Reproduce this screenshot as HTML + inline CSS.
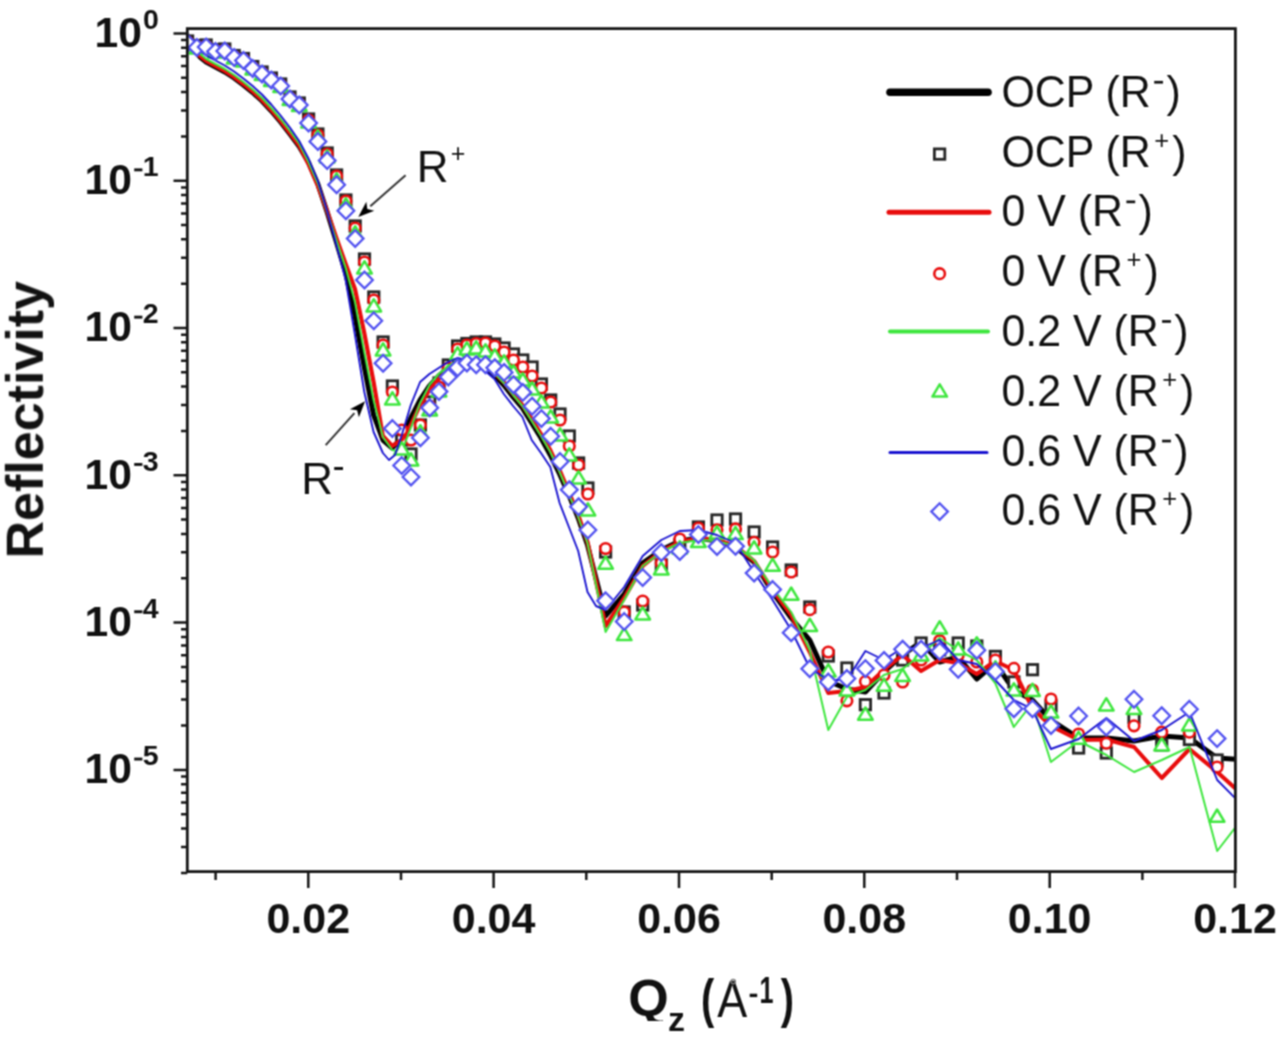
<!DOCTYPE html><html><head><meta charset="utf-8"><title>Reflectivity</title><style>html,body{margin:0;padding:0;background:#fff;width:1280px;height:1039px;overflow:hidden}svg{display:block}text{font-family:"Liberation Sans",sans-serif;fill:#111}</style></head><body>
<svg width="1280" height="1039" viewBox="0 0 1280 1039">
<defs><clipPath id="c"><rect x="187.3" y="28.6" width="1048.1" height="843.0"/></clipPath>
<symbol id="sq" overflow="visible"><rect x="-5.2" y="-5.2" width="10.4" height="10.4" fill="#fff" stroke="#262626" stroke-width="2.8"/></symbol>
<symbol id="ci" overflow="visible"><circle r="5.3" fill="#fff" stroke="#e80c0c" stroke-width="2.6"/></symbol>
<symbol id="tr" overflow="visible"><path d="M0 -6.8L7.3 5.4L-7.3 5.4Z" fill="#fff" stroke="#3ee63e" stroke-width="2.5" stroke-linejoin="round"/></symbol>
<symbol id="di" overflow="visible"><path d="M0 -8.3L8.3 0L0 8.3L-8.3 0Z" fill="#fff" stroke="#5252f0" stroke-width="2.3"/></symbol>
<filter id="soft" x="0" y="0" width="1280" height="1039" filterUnits="userSpaceOnUse" color-interpolation-filters="sRGB"><feConvolveMatrix order="3" kernelMatrix="1 2 1 2 4 2 1 2 1" edgeMode="duplicate"/></filter>
</defs>
<g filter="url(#soft)">
<rect width="1280" height="1039" fill="#fff"/>
<g clip-path="url(#c)">
<path d="M187.6 36.0 L193.0 48.0 L200.0 57.0 L206.2 62.0 L215.5 67.0 L224.8 72.0 L234.1 78.0 L243.4 85.0 L252.7 92.5 L262.0 101.0 L271.3 111.0 L280.6 122.0 L289.9 134.0 L299.2 146.5 L308.5 162.5 L317.8 184.0 L327.1 212.0 L336.4 242.0 L345.7 273.0 L355.0 316.0 L364.3 367.0 L373.6 415.0 L382.9 440.0 L392.2 448.0 L401.5 438.0 L410.8 418.0 L420.1 400.0 L429.4 386.0 L438.7 376.0 L448.0 368.0 L457.3 363.0 L466.6 361.0 L475.9 362.0 L485.2 368.0 L494.5 375.0 L503.8 385.0 L513.1 397.0 L522.4 408.0 L531.7 423.0 L541.0 438.0 L550.3 455.0 L559.6 474.0 L568.9 495.0 L578.2 518.0 L587.5 545.0 L605.6 616.0 L624.2 594.0 L642.7 563.0 L661.3 550.0 L679.8 541.0 L698.4 538.0 L716.9 541.0 L735.5 547.0 L754.0 562.0 L772.6 592.0 L791.2 618.0 L809.7 640.0 L828.3 681.0 L846.8 689.0 L865.4 692.0 L883.9 672.0 L902.5 655.0 L921.0 642.0 L939.6 662.0 L958.1 657.0 L976.7 679.0 L995.2 663.0 L1013.8 690.0 L1032.3 700.0 L1050.9 720.0 L1078.7 738.0 L1106.4 738.0 L1134.1 741.0 L1161.8 736.0 L1189.5 738.0 L1217.2 758.0 L1244.9 760.0" fill="none" stroke="#000" stroke-width="5.0" stroke-linejoin="round" stroke-linecap="round"/>
<use href="#sq" x="187.6" y="41.0"/><use href="#sq" x="196.9" y="45.5"/><use href="#sq" x="206.2" y="45.0"/><use href="#sq" x="215.5" y="49.5"/><use href="#sq" x="224.8" y="49.0"/><use href="#sq" x="234.2" y="55.5"/><use href="#sq" x="243.5" y="58.5"/><use href="#sq" x="252.8" y="66.5"/><use href="#sq" x="262.1" y="72.0"/><use href="#sq" x="271.4" y="78.0"/><use href="#sq" x="280.7" y="84.0"/><use href="#sq" x="290.0" y="97.0"/><use href="#sq" x="299.3" y="103.0"/><use href="#sq" x="308.6" y="119.0"/><use href="#sq" x="317.9" y="134.0"/><use href="#sq" x="327.2" y="153.0"/><use href="#sq" x="336.6" y="175.0"/><use href="#sq" x="345.9" y="200.0"/><use href="#sq" x="355.2" y="226.0"/><use href="#sq" x="364.5" y="259.0"/><use href="#sq" x="373.8" y="297.0"/><use href="#sq" x="383.1" y="342.0"/><use href="#sq" x="392.4" y="386.0"/><use href="#sq" x="401.7" y="440.0"/><use href="#sq" x="411.0" y="454.0"/><use href="#sq" x="420.4" y="425.0"/><use href="#sq" x="429.7" y="402.0"/><use href="#sq" x="439.0" y="383.0"/><use href="#sq" x="448.3" y="365.0"/><use href="#sq" x="457.6" y="346.0"/><use href="#sq" x="466.9" y="343.5"/><use href="#sq" x="476.2" y="342.0"/><use href="#sq" x="485.5" y="342.0"/><use href="#sq" x="494.8" y="344.0"/><use href="#sq" x="504.1" y="348.0"/><use href="#sq" x="513.5" y="354.0"/><use href="#sq" x="522.8" y="360.0"/><use href="#sq" x="532.1" y="367.0"/><use href="#sq" x="541.4" y="384.0"/><use href="#sq" x="550.7" y="400.0"/><use href="#sq" x="560.0" y="414.0"/><use href="#sq" x="569.3" y="436.0"/><use href="#sq" x="578.6" y="463.0"/><use href="#sq" x="587.9" y="488.0"/><use href="#sq" x="605.6" y="552.0"/><use href="#sq" x="624.2" y="612.0"/><use href="#sq" x="642.7" y="605.0"/><use href="#sq" x="661.3" y="565.0"/><use href="#sq" x="679.8" y="545.0"/><use href="#sq" x="698.4" y="527.0"/><use href="#sq" x="717.0" y="520.0"/><use href="#sq" x="735.5" y="519.0"/><use href="#sq" x="754.1" y="532.0"/><use href="#sq" x="772.6" y="547.0"/><use href="#sq" x="791.2" y="570.0"/><use href="#sq" x="809.8" y="607.0"/><use href="#sq" x="828.3" y="656.0"/><use href="#sq" x="846.9" y="668.0"/><use href="#sq" x="865.4" y="704.7"/><use href="#sq" x="884.0" y="693.0"/><use href="#sq" x="902.6" y="660.0"/><use href="#sq" x="921.1" y="643.0"/><use href="#sq" x="939.7" y="650.0"/><use href="#sq" x="958.2" y="643.0"/><use href="#sq" x="976.8" y="646.0"/><use href="#sq" x="995.4" y="656.4"/><use href="#sq" x="1013.9" y="682.0"/><use href="#sq" x="1032.5" y="669.7"/><use href="#sq" x="1051.0" y="706.0"/><use href="#sq" x="1078.6" y="748.0"/><use href="#sq" x="1106.3" y="753.0"/><use href="#sq" x="1134.0" y="717.6"/><use href="#sq" x="1161.7" y="745.0"/><use href="#sq" x="1189.4" y="739.5"/><use href="#sq" x="1217.1" y="760.0"/>
<path d="M187.6 36.5 L193.0 48.5 L200.0 56.0 L206.2 61.0 L215.5 66.0 L224.8 71.0 L234.1 77.0 L243.4 84.0 L252.7 91.5 L262.0 100.0 L271.3 110.0 L280.6 121.0 L289.9 133.0 L299.2 145.5 L308.5 164.0 L317.8 185.5 L327.1 211.0 L336.4 238.0 L345.7 264.0 L355.0 289.0 L364.3 333.0 L373.6 382.0 L382.9 436.0 L392.2 446.0 L401.5 440.0 L410.8 425.0 L420.1 405.0 L429.4 390.0 L438.7 379.0 L448.0 370.0 L457.3 364.0 L466.6 361.0 L475.9 361.0 L485.2 366.0 L494.5 373.0 L503.8 382.0 L513.1 394.0 L522.4 405.0 L531.7 419.0 L541.0 434.0 L550.3 450.0 L559.6 470.0 L568.9 492.0 L578.2 515.0 L587.5 542.0 L605.6 626.0 L624.2 598.0 L642.7 566.0 L661.3 551.0 L679.8 542.0 L698.4 538.0 L716.9 540.0 L735.5 546.0 L754.0 561.0 L772.6 590.0 L791.2 615.0 L809.7 652.0 L828.3 693.0 L846.8 691.0 L865.4 687.0 L883.9 670.0 L902.5 655.0 L921.0 671.0 L939.6 660.0 L958.1 663.0 L976.7 674.0 L995.2 661.0 L1013.8 670.0 L1032.3 708.0 L1050.9 726.0 L1078.7 740.0 L1106.4 739.5 L1134.1 747.0 L1161.8 778.0 L1189.5 749.0 L1217.2 772.0 L1244.9 797.0" fill="none" stroke="#e80c0c" stroke-width="4.1" stroke-linejoin="round" stroke-linecap="round"/>
<use href="#ci" x="187.6" y="42.0"/><use href="#ci" x="196.9" y="46.5"/><use href="#ci" x="206.2" y="46.0"/><use href="#ci" x="215.5" y="50.5"/><use href="#ci" x="224.8" y="50.0"/><use href="#ci" x="234.2" y="56.5"/><use href="#ci" x="243.5" y="59.5"/><use href="#ci" x="252.8" y="67.5"/><use href="#ci" x="262.1" y="73.0"/><use href="#ci" x="271.4" y="79.0"/><use href="#ci" x="280.7" y="85.0"/><use href="#ci" x="290.0" y="98.0"/><use href="#ci" x="299.3" y="104.0"/><use href="#ci" x="308.6" y="120.0"/><use href="#ci" x="317.9" y="135.0"/><use href="#ci" x="327.2" y="154.0"/><use href="#ci" x="336.6" y="176.0"/><use href="#ci" x="345.9" y="201.0"/><use href="#ci" x="355.2" y="228.0"/><use href="#ci" x="364.5" y="262.0"/><use href="#ci" x="373.8" y="300.0"/><use href="#ci" x="383.1" y="345.0"/><use href="#ci" x="392.4" y="392.0"/><use href="#ci" x="401.7" y="430.0"/><use href="#ci" x="411.0" y="440.0"/><use href="#ci" x="420.4" y="425.0"/><use href="#ci" x="429.7" y="406.0"/><use href="#ci" x="439.0" y="387.0"/><use href="#ci" x="448.3" y="368.0"/><use href="#ci" x="457.6" y="349.0"/><use href="#ci" x="466.9" y="345.0"/><use href="#ci" x="476.2" y="343.5"/><use href="#ci" x="485.5" y="343.0"/><use href="#ci" x="494.8" y="346.0"/><use href="#ci" x="504.1" y="352.0"/><use href="#ci" x="513.5" y="360.0"/><use href="#ci" x="522.8" y="367.0"/><use href="#ci" x="532.1" y="376.0"/><use href="#ci" x="541.4" y="388.0"/><use href="#ci" x="550.7" y="402.0"/><use href="#ci" x="560.0" y="420.0"/><use href="#ci" x="569.3" y="446.0"/><use href="#ci" x="578.6" y="465.0"/><use href="#ci" x="587.9" y="494.0"/><use href="#ci" x="605.6" y="548.5"/><use href="#ci" x="624.2" y="612.0"/><use href="#ci" x="642.7" y="601.0"/><use href="#ci" x="661.3" y="563.0"/><use href="#ci" x="679.8" y="539.0"/><use href="#ci" x="698.4" y="528.0"/><use href="#ci" x="717.0" y="529.8"/><use href="#ci" x="735.5" y="528.9"/><use href="#ci" x="754.1" y="542.3"/><use href="#ci" x="772.6" y="552.0"/><use href="#ci" x="791.2" y="572.0"/><use href="#ci" x="809.8" y="609.7"/><use href="#ci" x="828.3" y="652.0"/><use href="#ci" x="846.9" y="700.8"/><use href="#ci" x="865.4" y="681.6"/><use href="#ci" x="884.0" y="675.0"/><use href="#ci" x="902.6" y="682.0"/><use href="#ci" x="921.1" y="660.0"/><use href="#ci" x="939.7" y="640.7"/><use href="#ci" x="958.2" y="655.0"/><use href="#ci" x="976.8" y="662.0"/><use href="#ci" x="995.4" y="660.0"/><use href="#ci" x="1013.9" y="668.3"/><use href="#ci" x="1032.5" y="690.0"/><use href="#ci" x="1051.0" y="699.0"/><use href="#ci" x="1078.6" y="734.0"/><use href="#ci" x="1106.3" y="743.2"/><use href="#ci" x="1134.0" y="725.8"/><use href="#ci" x="1161.7" y="732.2"/><use href="#ci" x="1189.4" y="732.2"/><use href="#ci" x="1217.1" y="767.0"/>
<path d="M187.6 35.5 L193.0 47.5 L200.0 54.0 L206.2 59.0 L215.5 64.0 L224.8 69.0 L234.1 75.0 L243.4 82.0 L252.7 89.5 L262.0 98.0 L271.3 108.0 L280.6 119.0 L289.9 131.0 L299.2 143.5 L308.5 162.0 L317.8 183.5 L327.1 211.5 L336.4 240.0 L345.7 268.0 L355.0 302.0 L364.3 352.0 L373.6 400.0 L382.9 437.0 L392.2 450.0 L401.5 452.0 L410.8 428.0 L420.1 403.0 L429.4 385.0 L438.7 374.0 L448.0 366.0 L457.3 361.0 L466.6 359.0 L475.9 360.0 L485.2 366.0 L494.5 373.0 L503.8 383.0 L513.1 395.0 L522.4 406.0 L531.7 421.0 L541.0 436.0 L550.3 452.0 L559.6 472.0 L568.9 494.0 L578.2 517.0 L587.5 543.0 L605.6 632.0 L624.2 600.0 L642.7 566.0 L661.3 552.0 L679.8 543.0 L698.4 540.0 L716.9 541.0 L735.5 546.0 L754.0 560.0 L772.6 588.0 L791.2 612.0 L809.7 650.0 L828.3 730.0 L846.8 697.0 L865.4 690.0 L883.9 675.0 L902.5 669.0 L921.0 655.0 L939.6 638.0 L958.1 650.0 L976.7 660.0 L995.2 683.0 L1013.8 727.0 L1032.3 703.0 L1050.9 762.0 L1078.7 741.0 L1106.4 755.0 L1134.1 772.0 L1161.8 760.0 L1189.5 747.0 L1217.2 851.0 L1244.9 815.0" fill="none" stroke="#3ee63e" stroke-width="2.0" stroke-linejoin="round" stroke-linecap="round"/>
<use href="#tr" x="187.6" y="43.5"/><use href="#tr" x="196.9" y="48.0"/><use href="#tr" x="206.2" y="47.5"/><use href="#tr" x="215.5" y="52.0"/><use href="#tr" x="224.8" y="51.5"/><use href="#tr" x="234.2" y="58.0"/><use href="#tr" x="243.5" y="61.0"/><use href="#tr" x="252.8" y="69.0"/><use href="#tr" x="262.1" y="74.5"/><use href="#tr" x="271.4" y="80.5"/><use href="#tr" x="280.7" y="86.5"/><use href="#tr" x="290.0" y="99.5"/><use href="#tr" x="299.3" y="105.5"/><use href="#tr" x="308.6" y="122.0"/><use href="#tr" x="317.9" y="137.0"/><use href="#tr" x="327.2" y="157.0"/><use href="#tr" x="336.6" y="180.0"/><use href="#tr" x="345.9" y="205.0"/><use href="#tr" x="355.2" y="233.0"/><use href="#tr" x="364.5" y="268.0"/><use href="#tr" x="373.8" y="306.0"/><use href="#tr" x="383.1" y="350.0"/><use href="#tr" x="392.4" y="399.0"/><use href="#tr" x="401.7" y="449.0"/><use href="#tr" x="411.0" y="460.0"/><use href="#tr" x="420.4" y="432.0"/><use href="#tr" x="429.7" y="410.0"/><use href="#tr" x="439.0" y="391.0"/><use href="#tr" x="448.3" y="372.0"/><use href="#tr" x="457.6" y="354.0"/><use href="#tr" x="466.9" y="349.0"/><use href="#tr" x="476.2" y="348.0"/><use href="#tr" x="485.5" y="351.0"/><use href="#tr" x="494.8" y="356.0"/><use href="#tr" x="504.1" y="362.0"/><use href="#tr" x="513.5" y="372.0"/><use href="#tr" x="522.8" y="380.0"/><use href="#tr" x="532.1" y="389.0"/><use href="#tr" x="541.4" y="402.0"/><use href="#tr" x="550.7" y="417.0"/><use href="#tr" x="560.0" y="435.0"/><use href="#tr" x="569.3" y="455.0"/><use href="#tr" x="578.6" y="478.0"/><use href="#tr" x="587.9" y="510.0"/><use href="#tr" x="605.6" y="563.3"/><use href="#tr" x="624.2" y="634.7"/><use href="#tr" x="642.7" y="614.0"/><use href="#tr" x="661.3" y="569.0"/><use href="#tr" x="679.8" y="548.0"/><use href="#tr" x="698.4" y="541.6"/><use href="#tr" x="717.0" y="533.0"/><use href="#tr" x="735.5" y="533.7"/><use href="#tr" x="754.1" y="548.0"/><use href="#tr" x="772.6" y="565.4"/><use href="#tr" x="791.2" y="594.3"/><use href="#tr" x="809.8" y="625.5"/><use href="#tr" x="828.3" y="671.0"/><use href="#tr" x="846.9" y="690.0"/><use href="#tr" x="865.4" y="714.3"/><use href="#tr" x="884.0" y="685.4"/><use href="#tr" x="902.6" y="675.6"/><use href="#tr" x="921.1" y="655.0"/><use href="#tr" x="939.7" y="628.0"/><use href="#tr" x="958.2" y="649.2"/><use href="#tr" x="976.8" y="644.0"/><use href="#tr" x="995.4" y="668.0"/><use href="#tr" x="1013.9" y="690.0"/><use href="#tr" x="1032.5" y="690.5"/><use href="#tr" x="1051.0" y="712.0"/><use href="#tr" x="1078.6" y="738.4"/><use href="#tr" x="1106.3" y="705.0"/><use href="#tr" x="1134.0" y="708.6"/><use href="#tr" x="1161.7" y="745.0"/><use href="#tr" x="1189.4" y="725.0"/><use href="#tr" x="1217.1" y="816.3"/>
<path d="M187.6 35.5 L193.0 47.5 L200.0 50.5 L206.2 55.5 L215.5 60.5 L224.8 65.5 L234.1 71.5 L243.4 78.5 L252.7 86.0 L262.0 94.5 L271.3 104.5 L280.6 115.5 L289.9 127.5 L299.2 141.0 L308.5 158.5 L317.8 181.0 L327.1 211.0 L336.4 245.0 L345.7 280.0 L355.0 335.0 L364.3 392.0 L373.6 432.0 L382.9 453.0 L389.0 460.0 L395.0 455.0 L401.5 436.0 L410.8 405.0 L420.1 382.0 L429.4 374.0 L438.7 368.0 L448.0 362.0 L457.3 358.0 L466.6 360.0 L475.9 366.0 L485.2 371.0 L494.5 379.0 L503.8 394.0 L513.1 406.0 L522.4 417.0 L531.7 440.0 L541.0 453.0 L550.3 467.0 L559.6 503.0 L568.9 527.0 L578.2 551.0 L587.5 592.0 L596.0 606.0 L605.6 610.0 L624.2 587.0 L642.7 556.0 L661.3 540.0 L679.8 531.0 L698.4 530.0 L716.9 535.0 L735.5 543.0 L754.0 572.0 L772.6 600.0 L791.2 630.0 L809.7 668.0 L828.3 680.0 L846.8 680.0 L865.4 651.0 L883.9 660.0 L902.5 648.0 L921.0 648.0 L939.6 640.0 L958.1 660.0 L976.7 664.0 L995.2 680.0 L1013.8 700.0 L1032.3 709.0 L1050.9 749.0 L1078.7 739.0 L1106.4 718.0 L1134.1 741.0 L1161.8 730.0 L1189.5 712.0 L1217.2 780.0 L1244.9 808.0" fill="none" stroke="#1a14d0" stroke-width="1.9" stroke-linejoin="round" stroke-linecap="round"/>
<use href="#di" x="187.6" y="43.0"/><use href="#di" x="196.9" y="47.5"/><use href="#di" x="206.2" y="47.0"/><use href="#di" x="215.5" y="51.5"/><use href="#di" x="224.8" y="51.0"/><use href="#di" x="234.2" y="57.5"/><use href="#di" x="243.5" y="60.5"/><use href="#di" x="252.8" y="68.5"/><use href="#di" x="262.1" y="74.0"/><use href="#di" x="271.4" y="80.0"/><use href="#di" x="280.7" y="86.0"/><use href="#di" x="290.0" y="99.0"/><use href="#di" x="299.3" y="105.0"/><use href="#di" x="308.6" y="123.0"/><use href="#di" x="317.9" y="141.5"/><use href="#di" x="327.2" y="160.6"/><use href="#di" x="336.6" y="184.7"/><use href="#di" x="345.9" y="210.8"/><use href="#di" x="355.2" y="238.6"/><use href="#di" x="364.5" y="280.0"/><use href="#di" x="373.8" y="320.8"/><use href="#di" x="383.1" y="363.2"/><use href="#di" x="392.4" y="428.5"/><use href="#di" x="401.7" y="465.5"/><use href="#di" x="411.0" y="477.0"/><use href="#di" x="420.4" y="437.8"/><use href="#di" x="429.7" y="407.7"/><use href="#di" x="439.0" y="391.6"/><use href="#di" x="448.3" y="377.0"/><use href="#di" x="457.6" y="367.7"/><use href="#di" x="466.9" y="363.1"/><use href="#di" x="476.2" y="364.7"/><use href="#di" x="485.5" y="364.7"/><use href="#di" x="494.8" y="367.7"/><use href="#di" x="504.1" y="372.4"/><use href="#di" x="513.5" y="384.7"/><use href="#di" x="522.8" y="392.4"/><use href="#di" x="532.1" y="406.2"/><use href="#di" x="541.4" y="418.6"/><use href="#di" x="550.7" y="436.3"/><use href="#di" x="560.0" y="461.5"/><use href="#di" x="569.3" y="489.7"/><use href="#di" x="578.6" y="506.7"/><use href="#di" x="587.9" y="530.0"/><use href="#di" x="605.6" y="600.8"/><use href="#di" x="624.2" y="621.5"/><use href="#di" x="642.7" y="577.5"/><use href="#di" x="661.3" y="552.5"/><use href="#di" x="679.8" y="551.5"/><use href="#di" x="698.4" y="534.5"/><use href="#di" x="717.0" y="546.5"/><use href="#di" x="735.5" y="546.2"/><use href="#di" x="754.1" y="573.1"/><use href="#di" x="772.6" y="589.5"/><use href="#di" x="791.2" y="632.8"/><use href="#di" x="809.8" y="668.7"/><use href="#di" x="828.3" y="682.0"/><use href="#di" x="846.9" y="678.5"/><use href="#di" x="865.4" y="668.6"/><use href="#di" x="884.0" y="660.4"/><use href="#di" x="902.6" y="649.2"/><use href="#di" x="921.1" y="649.2"/><use href="#di" x="939.7" y="651.3"/><use href="#di" x="958.2" y="669.3"/><use href="#di" x="976.8" y="650.2"/><use href="#di" x="995.4" y="671.6"/><use href="#di" x="1013.9" y="708.8"/><use href="#di" x="1032.5" y="708.7"/><use href="#di" x="1051.0" y="725.6"/><use href="#di" x="1078.6" y="716.0"/><use href="#di" x="1106.3" y="727.0"/><use href="#di" x="1134.0" y="699.3"/><use href="#di" x="1161.7" y="715.7"/><use href="#di" x="1189.4" y="709.3"/><use href="#di" x="1217.1" y="738.6"/>
</g>
<rect x="187.3" y="28.6" width="1048.1" height="843.0" fill="none" stroke="#141414" stroke-width="2.8"/>
<path d="M215.6 871.6v8.3 M308.3 871.6v16.3 M401.0 871.6v8.3 M493.6 871.6v16.3 M586.3 871.6v8.3 M679.0 871.6v16.3 M771.7 871.6v8.3 M864.3 871.6v16.3 M957.0 871.6v8.3 M1049.7 871.6v16.3 M1142.4 871.6v8.3 M1235.0 871.6v16.3 M187.3 33.4h-13.8 M187.3 180.7h-13.8 M187.3 136.4h-6.3 M187.3 110.4h-6.3 M187.3 92.0h-6.3 M187.3 77.7h-6.3 M187.3 66.1h-6.3 M187.3 56.2h-6.3 M187.3 47.7h-6.3 M187.3 40.1h-6.3 M187.3 328.0h-13.8 M187.3 283.7h-6.3 M187.3 257.7h-6.3 M187.3 239.3h-6.3 M187.3 225.0h-6.3 M187.3 213.4h-6.3 M187.3 203.5h-6.3 M187.3 195.0h-6.3 M187.3 187.4h-6.3 M187.3 475.3h-13.8 M187.3 431.0h-6.3 M187.3 405.0h-6.3 M187.3 386.6h-6.3 M187.3 372.3h-6.3 M187.3 360.7h-6.3 M187.3 350.8h-6.3 M187.3 342.3h-6.3 M187.3 334.7h-6.3 M187.3 622.6h-13.8 M187.3 578.3h-6.3 M187.3 552.3h-6.3 M187.3 533.9h-6.3 M187.3 519.6h-6.3 M187.3 508.0h-6.3 M187.3 498.1h-6.3 M187.3 489.6h-6.3 M187.3 482.0h-6.3 M187.3 769.9h-13.8 M187.3 725.6h-6.3 M187.3 699.6h-6.3 M187.3 681.2h-6.3 M187.3 666.9h-6.3 M187.3 655.3h-6.3 M187.3 645.4h-6.3 M187.3 636.9h-6.3 M187.3 629.3h-6.3 M187.3 872.9h-6.3 M187.3 846.9h-6.3 M187.3 828.5h-6.3 M187.3 814.2h-6.3 M187.3 802.6h-6.3 M187.3 792.7h-6.3 M187.3 784.2h-6.3 M187.3 776.6h-6.3" stroke="#141414" stroke-width="2.5" fill="none"/>
<text x="94.6" y="46.7" font-weight="bold" font-size="42.7">10</text>
<text x="158.8" y="28.7" text-anchor="end" font-weight="bold" font-size="28.5">0</text>
<text x="84.6" y="194.0" font-weight="bold" font-size="42.7">10</text>
<rect x="134.2" y="168.4" width="8.2" height="2.9" fill="#111"/>
<text x="158.6" y="176.0" text-anchor="end" font-weight="bold" font-size="28.5">1</text>
<text x="84.6" y="341.3" font-weight="bold" font-size="42.7">10</text>
<rect x="134.2" y="315.7" width="8.2" height="2.9" fill="#111"/>
<text x="158.6" y="323.3" text-anchor="end" font-weight="bold" font-size="28.5">2</text>
<text x="84.6" y="488.6" font-weight="bold" font-size="42.7">10</text>
<rect x="134.2" y="463.0" width="8.2" height="2.9" fill="#111"/>
<text x="158.6" y="470.6" text-anchor="end" font-weight="bold" font-size="28.5">3</text>
<text x="84.6" y="635.9" font-weight="bold" font-size="42.7">10</text>
<rect x="134.2" y="610.3" width="8.2" height="2.9" fill="#111"/>
<text x="158.6" y="617.9" text-anchor="end" font-weight="bold" font-size="28.5">4</text>
<text x="84.6" y="783.2" font-weight="bold" font-size="42.7">10</text>
<rect x="134.2" y="757.6" width="8.2" height="2.9" fill="#111"/>
<text x="158.6" y="765.2" text-anchor="end" font-weight="bold" font-size="28.5">5</text>
<text x="308.3" y="933.4" text-anchor="middle" font-weight="bold" font-size="43">0.02</text>
<text x="493.6" y="933.4" text-anchor="middle" font-weight="bold" font-size="43">0.04</text>
<text x="679.0" y="933.4" text-anchor="middle" font-weight="bold" font-size="43">0.06</text>
<text x="864.3" y="933.4" text-anchor="middle" font-weight="bold" font-size="43">0.08</text>
<text x="1049.7" y="933.4" text-anchor="middle" font-weight="bold" font-size="43">0.10</text>
<text x="1235.0" y="933.4" text-anchor="middle" font-weight="bold" font-size="43">0.12</text>
<text transform="translate(42.8,558.5) rotate(-90)" font-weight="bold" font-size="52">Reflectivity</text>
<clipPath id="qc"><rect x="600" y="960" width="100" height="61"/></clipPath>
<text x="628.2" y="1016.3" font-weight="bold" font-size="52" clip-path="url(#qc)">Q</text>
<text x="668" y="1030.6" font-weight="bold" font-size="34">z</text>
<text transform="translate(701,1016.7) scale(0.75,1)" font-weight="bold" font-size="53">(</text>
<text transform="translate(717.3,1016.8) scale(0.88,1)" font-size="51">A</text>
<circle cx="733.2" cy="981.6" r="2.1" fill="none" stroke="#777" stroke-width="1.5"/>
<rect x="749.7" y="993.7" width="7.5" height="3.4" fill="#111"/>
<text transform="translate(759.5,1002.5) scale(0.68,1)" font-weight="bold" font-size="37">1</text>
<text transform="translate(780.8,1016.7) scale(0.75,1)" font-weight="bold" font-size="53">)</text>
<text transform="translate(1001.4,106.8) scale(0.975,1)" font-size="44">OCP (R</text>
<rect x="1154.2" y="80.9" width="8.8" height="2.7" fill="#111"/>
<text transform="translate(1166.4,106.8) scale(0.975,1)" font-size="44">)</text>
<text transform="translate(1001.4,166.6) scale(0.975,1)" font-size="44">OCP (R</text>
<text x="1161.8" y="148.6" text-anchor="middle" font-size="25.5">+</text>
<text transform="translate(1172.2,166.6) scale(0.975,1)" font-size="44">)</text>
<text transform="translate(1001.4,226.4) scale(0.975,1)" font-size="44">0 V (R</text>
<rect x="1126.4" y="200.5" width="8.8" height="2.7" fill="#111"/>
<text transform="translate(1138.6,226.4) scale(0.975,1)" font-size="44">)</text>
<text transform="translate(1001.4,286.2) scale(0.975,1)" font-size="44">0 V (R</text>
<text x="1134.0" y="268.2" text-anchor="middle" font-size="25.5">+</text>
<text transform="translate(1144.4,286.2) scale(0.975,1)" font-size="44">)</text>
<text transform="translate(1001.4,346.0) scale(0.975,1)" font-size="44">0.2 V (R</text>
<rect x="1162.1" y="320.1" width="8.8" height="2.7" fill="#111"/>
<text transform="translate(1174.3,346.0) scale(0.975,1)" font-size="44">)</text>
<text transform="translate(1001.4,405.8) scale(0.975,1)" font-size="44">0.2 V (R</text>
<text x="1169.7" y="387.8" text-anchor="middle" font-size="25.5">+</text>
<text transform="translate(1180.1,405.8) scale(0.975,1)" font-size="44">)</text>
<text transform="translate(1001.4,465.6) scale(0.975,1)" font-size="44">0.6 V (R</text>
<rect x="1162.1" y="439.7" width="8.8" height="2.7" fill="#111"/>
<text transform="translate(1174.3,465.6) scale(0.975,1)" font-size="44">)</text>
<text transform="translate(1001.4,525.4) scale(0.975,1)" font-size="44">0.6 V (R</text>
<text x="1169.7" y="507.4" text-anchor="middle" font-size="25.5">+</text>
<text transform="translate(1180.1,525.4) scale(0.975,1)" font-size="44">)</text>
<line x1="890" y1="92.2" x2="988" y2="92.2" stroke="#000" stroke-width="7.6" stroke-linecap="round"/>
<use href="#sq" x="939.6" y="154.1"/>
<line x1="889" y1="212.3" x2="989" y2="212.3" stroke="#e80c0c" stroke-width="5" stroke-linecap="round"/>
<use href="#ci" x="939.6" y="273.7"/>
<line x1="890" y1="331.4" x2="988" y2="331.4" stroke="#3ee63e" stroke-width="4" stroke-linecap="round"/>
<use href="#tr" x="939.7" y="391.2"/>
<line x1="890" y1="452.5" x2="987" y2="452.5" stroke="#1a14d0" stroke-width="3" stroke-linecap="round"/>
<use href="#di" x="939.6" y="511.6"/>
<text x="416.8" y="181.8" font-size="44">R</text>
<text x="458" y="161.9" text-anchor="middle" font-size="25">+</text>
<text x="301.2" y="493.6" font-size="44">R</text>
<rect x="334.2" y="467" width="8.8" height="3" fill="#111"/>
<line x1="405.6" y1="175.2" x2="370.3" y2="206.3" stroke="#333" stroke-width="2"/><path d="M358.3 216.9L366.3 201.8L367.3 209.0L374.3 210.8Z" fill="#000"/>
<line x1="325.7" y1="445.1" x2="354.4" y2="413.2" stroke="#333" stroke-width="2"/><path d="M365.1 401.3L358.9 417.2L357.1 410.2L349.9 409.2Z" fill="#000"/>
</g>
</svg></body></html>
